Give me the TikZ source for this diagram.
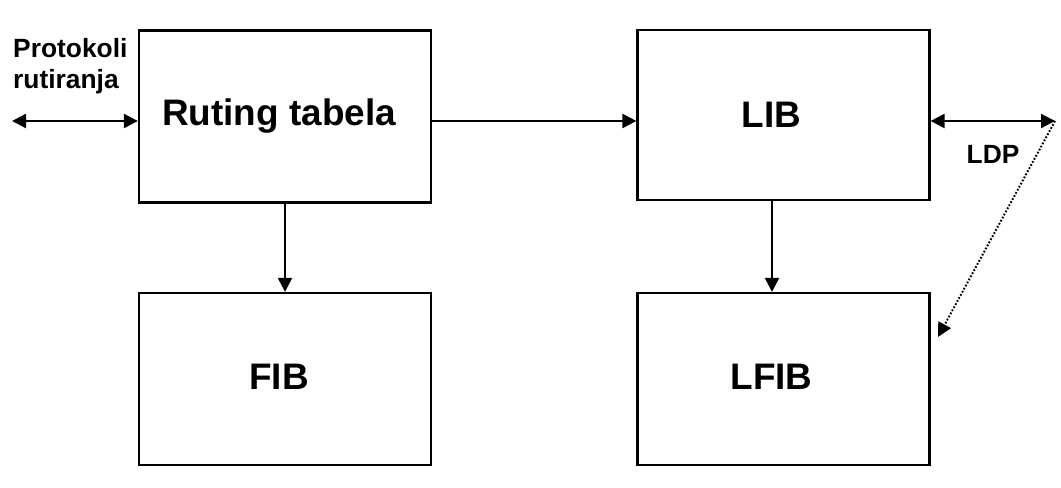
\documentclass[tikz,border=0pt]{standalone}
\usepackage{fontspec}
\setmainfont{Liberation Sans}
\usetikzlibrary{arrows.meta}

\tikzset{
  blok/.style={draw, line width=1.3pt, minimum width=5.84cm, minimum height=3.44cm},
  natpis/.style={font=\fontsize{21}{24}\selectfont\bfseries},
  veza/.style={line width=1.3pt, -{Triangle[length=0.28cm,width=0.28cm]}},
  dvoveza/.style={line width=1.3pt, {Triangle[length=0.28cm,width=0.28cm]}-{Triangle[length=0.28cm,width=0.28cm]}},
  oznaka/.style={font=\fontsize{15}{17.5}\selectfont\bfseries}
}

\begin{document}
\begin{tikzpicture}
    \useasboundingbox (0,0) rectangle (21.22,9.76);
    \node[blok] (rt) at (5.70,7.43) {};
    \node[blok] (fib) at (5.70,2.18) {};
    \node[blok, minimum height=3.40cm] (lib) at (15.67,7.46) {};
    \node[blok] (lfib) at (15.67,2.18) {};
    \node[natpis] (rttxt) at ([xshift=-0.12cm]rt.center) {Ruting tabela};
    \node[natpis] (fibtxt) at ([xshift=-0.12cm,yshift=0.05cm]fib.center) {FIB};
    \node[natpis] (libtxt) at ([xshift=-0.24cm]lib.center) {LIB};
    \node[natpis] (lfibtxt) at ([xshift=-0.24cm,yshift=0.05cm]lfib.center) {LFIB};
    \coordinate (pr) at (0.24,7.34);
    \coordinate (ldp) at (21.10,7.34);
    \coordinate (lf) at (18.76,3.02);
    \draw[dvoveza] (pr) -- (rt.west |- pr);
    \node[oznaka, align=left, anchor=south west] (proto) at (0.14,7.76) {Protokoli\\rutiranja};
    \draw[veza] (rt.east |- pr) -- (lib.west |- pr);
    \draw[veza] (rt.south) -- (fib.north);
    \draw[veza] ([xshift=-0.23cm]lib.south) -- ([xshift=-0.23cm]lfib.north);
    \draw[dvoveza] (lib.east |- ldp) -- (ldp);
    \node[oznaka] (ldptxt) at (19.86,6.68) {LDP};
    \draw[line width=1.1pt, dash pattern=on 1pt off 1pt, -{Triangle[length=0.28cm,width=0.28cm]}] (ldp) -- (lf);
  \end{tikzpicture}
\end{document}
